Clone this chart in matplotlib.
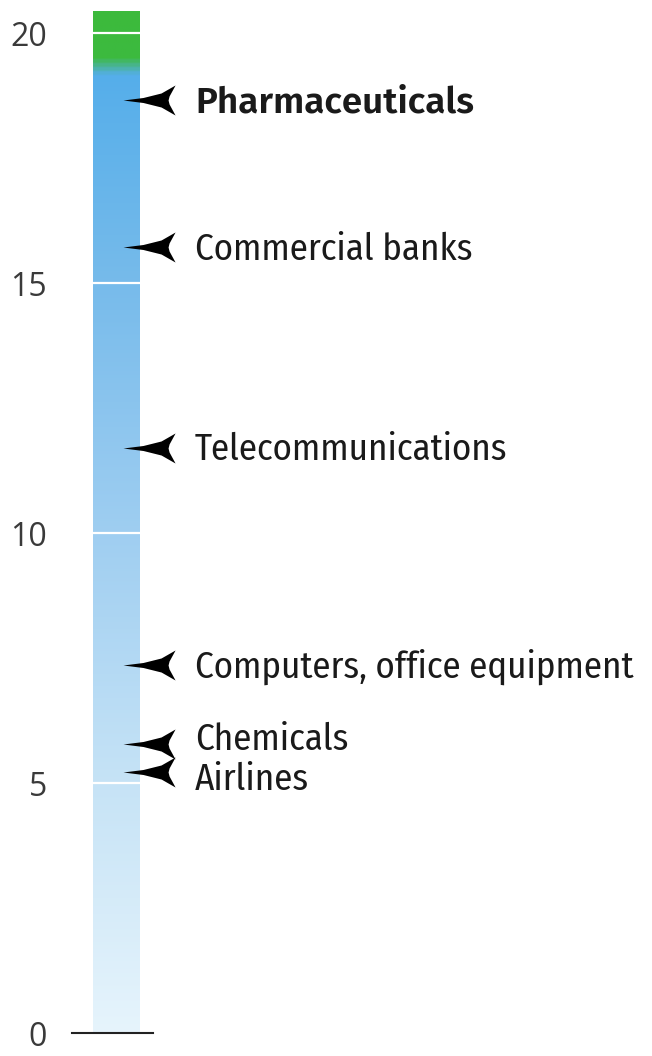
import numpy as np
import matplotlib
matplotlib.use("Agg")
import matplotlib.pyplot as plt
from matplotlib.colors import LinearSegmentedColormap
from matplotlib.path import Path

# ---- data ----
industries = ["Pharmaceuticals", "Commercial banks", "Telecommunications",
              "Computers, office equipment", "Chemicals", "Airlines"]
values = [18.66, 15.72, 11.7, 7.36, 5.78, 5.22]
bold = [True, False, False, False, False, False]
label_nudge = [0, 0, 0, 0, 0.14, -0.12]
tick_values = [0, 5, 10, 15, 20]
tick_labels = ["0", "5", "10", "15", "20"]
bar_top = 20.44

LABEL_FONT = ["Fira Sans Condensed", "DejaVu Sans"]
BOLD_FONT = ["Fira Sans", "DejaVu Sans"]
TICK_FONT = ["Open Sans", "DejaVu Sans"]

# ---- figure ----
W, H = 652, 1056
fig = plt.figure(figsize=(W / 100, H / 100), dpi=100)
ax = fig.add_axes([0, 0, 1, 1])
ax.set_xlim(0, W)
ax.set_ylim(-0.46, 20.66)
ax.axis("off")

# gradient bar
stops = [(0.0, "#e6f4fc"), (5 / bar_top, "#c6e3f6"), (10 / bar_top, "#9fcef1"),
         (15 / bar_top, "#77bbeb"), (19.2 / bar_top, "#55aeea"),
         (19.55 / bar_top, "#3dba3f"), (1.0, "#3cba3c")]
cmap = LinearSegmentedColormap.from_list("bar", stops)
grad = np.linspace(0, 1, 512).reshape(-1, 1)
bx0, bx1 = 93, 140
ax.imshow(grad, cmap=cmap, aspect="auto", origin="lower",
          extent=[bx0, bx1, 0, bar_top], interpolation="bilinear", zorder=1)

# white separators
for t in tick_values[1:]:
    ax.plot([bx0, bx1], [t, t], color="white", lw=1.6, zorder=2)

# zero baseline
ax.plot([72, 153], [0, 0], color="#222222", lw=1.5, zorder=3)

# tick labels
for t, lab in zip(tick_values, tick_labels):
    ax.text(47, t - 0.25, lab, ha="right", va="baseline", fontsize=23,
            family=TICK_FONT, color="#3a3a3a")

# arrow marker (tip at origin pointing left)
verts = [(0, 0), (20, -2.5), (38, -7), (52, -15), (46, -4), (45, 0),
         (46, 4), (52, 15), (38, 7), (20, 2.5), (0, 0)]
codes = [Path.MOVETO] + [Path.LINETO] * (len(verts) - 2) + [Path.CLOSEPOLY]
arrow = Path(verts, codes)

for name, v, b, dn in zip(industries, values, bold, label_nudge):
    ax.plot([123], [v], marker=arrow, markersize=75, color="black",
            markeredgewidth=0, linestyle="none", zorder=4)
    ax.text(195, v + dn - 0.25, name, ha="left", va="baseline", fontsize=26.5,
            family=BOLD_FONT if b else LABEL_FONT,
            fontweight="semibold" if b else "normal", color="#1a1a1a")

fig.savefig("out.png", dpi=100)
